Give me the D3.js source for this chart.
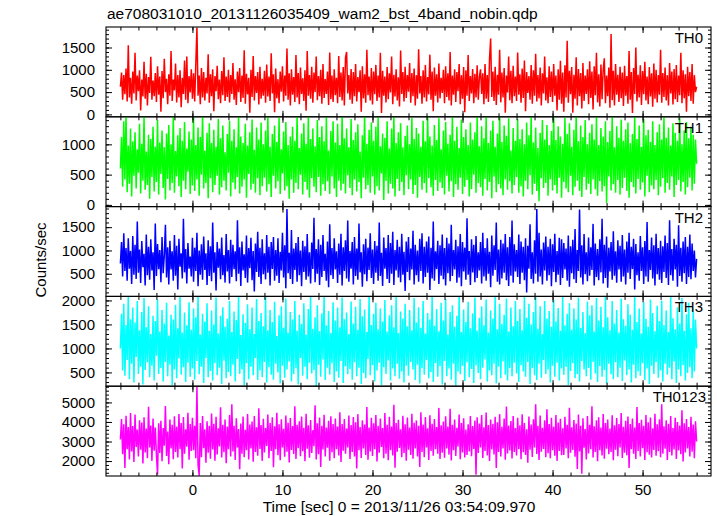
<!DOCTYPE html>
<html>
<head>
<meta charset="utf-8">
<script src="https://cdn.jsdelivr.net/npm/d3@7"></script>
<style>
  html, body { margin: 0; padding: 0; background: #fff; }
  svg { display: block; font-family: "Liberation Sans", Arial, Helvetica, sans-serif; }
</style>
</head>
<body>
<svg id="chart" width="717" height="516"></svg>
<script>
// ---- data (~0.125 s samples from t = -8 s to t = 56 s) ----
const title = "ae708031010_20131126035409_wam2_bst_4band_nobin.qdp";
const xLabel = "Time [sec] 0 = 2013/11/26 03:54:09.970";
const yLabel = "Counts/sec";
const bands = ["TH0", "TH1", "TH2", "TH3", "TH0123"];
const tStart = -8;
const tEnd = 56;
const xTicks = [0, 10, 20, 30, 40, 50];

const th0 = [
620,940,330,880,450,1030,290,1550,380,820,240,960,470,1380,310,870,520,990,90,780,400,1180,350,910,200,840,480,1290,330,760,410,930,
280,1080,440,850,60,970,360,1250,500,800,230,900,420,1420,300,780,540,1140,270,880,380,990,160,820,460,1210,330,1300,250,860,490,1010,
350,920,290,1130,1950,420,870,230,1040,380,950,310,820,470,1350,260,900,410,1010,70,860,520,1090,340,780,250,970,430,1280,300,850,390,
1000,270,880,460,1150,330,790,210,960,500,1040,280,870,370,1440,240,910,450,820,40,1000,390,1310,310,860,480,950,220,1070,350,800,420,
980,260,1120,400,850,300,1370,470,900,50,1030,360,790,250,960,510,1080,290,870,420,1480,330,920,200,1010,440,840,280,1330,380,930,230,
1050,460,810,300,990,80,1420,420,880,350,1070,260,940,500,1300,320,860,410,1000,240,1130,370,790,460,960,210,1390,340,870,280,1010,430,
820,250,1310,390,940,310,1060,200,1270,1400,470,880,330,1020,240,950,410,1130,290,840,500,990,60,1080,360,900,260,1450,430,850,310,1040,
220,960,450,1110,300,870,380,1380,30,980,420,850,270,1060,340,920,490,1300,230,890,400,1010,310,830,180,1430,460,950,290,1070,370,880,
510,1150,260,930,410,1030,200,880,350,1460,470,860,240,990,380,1110,290,840,450,1340,330,960,70,1050,420,900,270,1140,360,820,480,1000,
250,1080,390,920,310,1400,200,870,440,1010,280,950,520,1130,230,880,350,1060,50,990,420,1330,300,860,470,1020,250,910,380,1100,330,840,
1010,460,920,230,1130,350,880,280,1250,1700,390,960,300,1070,210,890,440,1450,270,940,380,1040,40,870,490,1300,320,980,250,1090,410,850,
300,1390,440,900,260,1030,370,1210,70,950,480,860,330,1110,240,990,420,1360,290,880,360,1050,200,920,470,1300,310,830,250,1080,390,960,
280,1130,420,870,90,1010,330,1200,240,940,60,1100,380,1650,260,980,450,1060,40,890,350,1280,200,1020,410,930,130,1150,300,870,460,1010,
230,1190,370,960,110,1080,430,1380,270,900,180,1120,340,1000,1260,250,870,410,1050,150,1800,320,980,200,1130,440,890,280,1070,360,940,190,
1090,420,860,240,1420,330,950,30,1040,460,1500,290,890,380,1100,210,970,450,1180,310,850,230,1060,400,920,170,1140,350,1000,270,880,440,
1450,260,930,390,1050,310,880,200,1150,470,960,220,1020,340,1110,280,870,430,1380,250,990,360,900,60,1070,410,950,300,1130,240,880,500,
620
];
const th1 = [
600,1120,300,1380,420,1500,210,980,350,1260,140,1050,480,1200,270,920,530,1340,190,1010,400,1470,250,880,330,1160,100,1090,460,1290,220,960,
380,1400,170,1030,510,1230,280,950,90,1180,430,1320,240,1000,360,1480,200,890,470,1150,310,1270,130,1060,400,1370,260,930,550,1210,180,1080,
320,1450,230,990,420,1280,150,1120,500,1500,270,900,360,1190,110,1350,440,1020,210,1240,330,960,480,1420,170,1100,290,1310,400,870,240,1170,
530,1390,140,1060,370,1250,260,950,460,1470,190,1130,300,1020,420,1340,120,980,510,1200,250,1410,350,910,200,1280,440,1080,160,1360,310,1000,
450,1230,220,1500,340,960,130,1170,480,1310,270,1040,390,1440,180,920,520,1210,240,1370,310,990,100,1130,420,1290,200,1060,360,1480,260,940,
500,1180,170,1350,380,1010,250,1470,120,1090,440,1260,300,970,210,1400,460,1120,150,1300,340,1050,230,1450,390,900,180,1220,470,1380,270,1030,
130,1340,400,990,240,1500,350,1100,190,1260,490,950,280,1420,160,1070,420,1200,220,1330,380,880,110,1150,450,1480,260,1010,330,1240,200,1360,
470,1060,170,1290,310,1450,240,970,520,1180,80,1110,400,1380,190,930,350,1260,270,1490,140,1020,430,1200,230,1350,380,950,160,1140,490,1310,
260,1000,420,1440,180,1090,330,1270,120,1180,460,960,250,1390,360,1050,200,1500,440,1130,290,980,150,1320,410,1070,230,1430,370,920,280,1230,
170,1370,480,1010,220,1160,390,1480,130,1060,340,1290,250,940,450,1410,180,1120,300,1250,410,990,140,1360,260,1080,500,1200,200,1450,360,970,
290,1300,150,1100,430,1470,240,1020,380,1230,110,1390,470,960,210,1180,340,1500,270,1040,160,1310,420,1140,250,1430,390,900,190,1270,330,1060,
460,1420,200,1090,310,1250,140,1000,400,1360,260,1150,490,1470,170,1030,350,1280,230,940,60,1190,440,1400,280,1080,360,1320,150,990,420,1220,
240,1480,330,1070,190,1300,450,1130,120,1010,380,1440,270,1170,210,1350,480,960,160,1240,300,1500,400,1050,230,1310,130,1120,460,1400,250,1000,
350,1190,180,1330,420,1080,260,1460,150,990,390,1270,220,1130,310,1380,30,1040,470,1220,240,1490,340,950,200,1300,410,1110,170,1410,280,1060,
450,1250,230,1360,120,1020,380,1170,290,1470,190,1090,430,1310,250,960,370,1420,140,1150,480,1240,210,1040,320,1380,260,990,410,1200,160,1330,
300,1080,440,1450,200,1110,360,1280,250,980,470,1350,130,1190,330,1060,410,1440,220,1000,380,1230,170,1370,290,1100,450,1290,240,1160,350,1080,
680
];
const th2 = [
720,1180,440,1370,560,1050,350,1260,610,990,280,1310,480,1120,390,1620,520,1020,300,1200,640,930,250,1340,470,1080,370,1240,570,960,150,1580,
450,1140,600,1010,320,1290,510,890,1550,420,1070,270,1210,590,980,350,1330,460,1100,160,1250,650,940,400,1680,530,1030,290,1160,610,870,440,
1270,330,1060,560,1380,230,1000,480,1130,370,1300,580,940,260,1220,450,1090,340,1600,520,960,140,1180,630,1040,380,1280,470,900,310,1350,550,
1010,290,1230,430,1120,600,980,340,1650,500,1070,240,1190,570,920,410,1320,310,1050,620,1270,360,990,120,1150,540,1400,430,1060,280,1240,490,
940,380,1330,520,1080,250,1180,600,1290,350,1010,460,1260,300,970,570,1380,420,1110,190,1890,510,950,390,1440,280,1040,580,1160,330,1290,470,
1000,230,1210,540,1090,370,1350,440,960,290,1170,600,1700,320,1030,500,1240,260,1120,430,1330,560,930,350,1190,210,1560,470,1050,390,1260,590,
980,300,1150,480,1360,250,1070,560,1220,400,1640,330,990,610,1180,270,1290,450,1040,370,1580,530,960,220,1130,490,1250,340,1060,580,1370,410,
1020,280,1200,520,1100,350,1600,450,950,240,1280,610,1050,390,1330,300,1160,500,1400,260,1010,570,1230,420,1080,320,1360,480,970,130,1190,540,
1290,360,1040,590,1420,270,1120,470,1000,330,1250,560,1370,290,1080,430,1190,520,1300,150,1060,400,1620,350,980,600,1210,280,1110,460,1340,380,
1050,250,1270,510,1150,340,1550,450,1010,590,1230,310,1090,420,1350,230,1180,550,1060,370,1690,480,990,260,1240,530,1120,320,1310,410,960,570,
1180,290,1380,440,1050,350,1260,500,970,210,1320,460,1110,580,1600,330,1020,270,1230,400,1150,520,1350,360,1070,240,1290,460,1640,310,1130,550,
1010,430,1340,280,1190,520,1080,360,1260,100,1100,610,1560,390,960,290,1220,500,1890,330,1380,440,1020,270,1170,570,1300,350,1080,470,1250,230,
1130,540,1360,320,990,480,1270,260,1240,410,1160,590,1040,350,1320,220,1090,510,1230,380,1460,300,1010,560,1880,420,1110,270,1350,490,960,340,
1280,460,1070,580,1570,250,1150,430,1030,360,1240,530,1680,290,1120,410,1300,200,1060,550,1180,370,1410,460,980,310,1220,590,1100,330,1330,440,
1020,270,1190,520,1380,390,1080,600,1250,160,1140,470,960,350,1310,560,1070,280,1200,440,1610,330,1010,580,1280,400,1110,250,1360,490,1050,370,
1210,300,1090,540,1320,410,1160,260,1650,470,1030,350,1250,590,1120,220,1540,450,1060,330,1190,510,1290,280,1080,430,1340,380,1150,560,1000,420,
820
];
const th3 = [
1000,1720,540,1930,430,1490,760,2100,360,1610,680,1850,290,1540,820,1990,470,1380,620,1760,250,2050,550,1440,710,1880,400,1300,640,1680,330,1570,
850,2020,470,1350,590,1800,310,1520,720,1950,420,1270,660,1700,240,1600,560,1910,380,1420,790,2090,450,1330,610,1750,300,1480,700,1960,410,1390,
580,1830,350,1650,740,2100,460,1290,620,1720,280,1560,800,1940,400,1370,530,1790,330,1500,690,2060,440,1310,600,1680,260,1860,750,1450,380,1620,
510,1990,420,1340,660,1770,310,1590,780,2080,470,1280,560,1710,230,1530,690,1920,360,1400,620,1850,440,1300,800,2030,340,1570,540,1740,400,1460,
720,2100,290,1380,610,1800,450,1550,350,1970,680,1260,500,1690,270,1880,640,1430,390,2040,560,1330,730,1760,310,1600,470,1990,590,1370,250,1700,
800,1510,430,1940,620,1290,360,1820,700,2070,480,1410,550,1650,220,1900,660,1360,410,1730,770,2100,340,1480,600,1780,450,1320,690,1960,300,1580,
520,1850,390,1440,740,2060,280,1610,630,1750,460,1300,570,1980,350,1520,710,1870,420,1390,600,2030,260,1670,490,1810,380,1340,780,2090,440,1490,
650,1720,310,1950,540,1400,700,1830,240,1560,610,2010,470,1350,750,1690,330,1900,580,1440,420,2080,680,1320,370,1770,520,1620,290,1930,640,1460,
430,1800,720,1380,560,2050,340,1540,660,1860,270,1430,590,1990,450,1310,760,1740,380,1600,510,2090,300,1470,690,1820,410,1360,630,1950,250,1580,
740,2030,420,1290,580,1760,350,1900,680,1450,230,1680,520,2100,460,1340,640,1810,320,1550,710,1970,400,1420,570,1730,280,2060,650,1370,490,1640,
360,1880,600,1480,770,2020,310,1330,540,1790,440,1620,680,2080,270,1400,620,1930,380,1510,730,1700,450,2040,330,1350,590,1850,420,1460,700,1990,
480,1570,300,1820,650,1380,520,2070,410,1640,720,1930,260,1500,590,1760,440,2090,340,1410,680,1880,390,1300,760,1990,470,1620,560,1780,290,1450,
640,2010,410,1560,700,1840,330,1370,580,2100,450,1480,620,1720,240,1940,530,1390,690,1830,380,1600,470,2060,310,1430,740,1760,560,1320,420,1980,
590,1690,350,1900,720,1350,480,2050,300,1580,630,1870,410,1440,550,2090,270,1650,680,1380,460,1990,360,1520,710,1800,400,1330,600,2040,320,1610,
750,1470,440,1920,560,1700,290,1390,660,2080,380,1550,520,1830,430,1310,690,1960,340,1620,580,1450,260,2020,640,1740,470,1360,710,1890,390,1570,
540,2000,310,1480,680,1790,450,1340,600,2070,360,1630,730,1400,280,1860,560,1520,420,2050,650,1370,330,1710,490,1950,610,1420,380,1830,520,1600,
1000
];
const th0123 = [
3100,4150,2350,3880,1640,4320,2610,3740,2080,4460,2490,3790,1950,4380,2720,3610,2230,4090,2580,3970,1870,4240,2440,3660,2150,4780,2690,3820,2010,4180,2530,3720,
2320,1310,3930,2410,4060,1990,3690,2780,4820,2260,3510,1840,4130,2640,3850,2090,4290,2470,3760,2180,4410,2600,3950,1620,4250,2380,3620,2730,4470,2070,3890,2510,
4210,2560,3800,2140,5800,1800,1250,3950,2200,4300,2660,3620,1920,4040,2420,3810,2120,4430,2590,3910,2020,4260,2340,3680,2750,4750,2180,3860,2450,4120,1890,3770,
2610,4350,2230,4900,2490,3810,2060,4190,2700,3640,1580,3920,2380,4280,2190,3600,2550,4410,2080,3870,2640,4020,1960,4310,2470,3730,2270,4700,2620,3840,2010,4160,
2440,3690,2770,4380,2150,3940,2520,4240,1680,3780,2610,4470,2300,3880,2040,4140,2690,3650,2220,4330,2480,3960,1930,4200,2570,3790,2360,4800,2110,3860,2660,4030,
2250,4280,2500,3700,1990,4420,2630,3830,2170,4100,2410,3580,2760,4850,2080,3930,2350,4230,1700,3810,2590,4370,2240,3720,2680,4060,2020,4290,2450,3890,2140,4180,
2600,3760,2290,4490,1950,3900,2530,4150,2370,3660,2700,4330,2100,3840,2460,4250,2230,3990,1620,4400,2550,3740,2160,4080,2640,3870,2310,4760,2070,3710,2490,4210,
2260,3930,2610,4360,1980,3800,2420,4170,2720,3690,2150,4460,2380,3850,2040,4270,2560,3760,2290,4880,1660,3940,2480,4110,2670,3620,2190,4320,2410,3880,2020,4230,
2580,3710,2310,4420,2120,3960,2650,4080,2240,3800,1700,4500,2470,3870,2200,4250,2690,3680,2050,4340,2520,3910,2270,4150,2610,3740,2380,4720,2110,3830,2430,4020,
2170,4290,2640,3770,2330,4680,2030,3860,2560,4130,2260,3700,2740,4380,2090,3950,2440,4190,2180,3610,2310,3880,2490,4310,2250,3790,2620,4070,1300,4240,2410,3920,
2700,4360,2160,3730,2520,4480,2280,3840,2000,4120,2590,3910,2340,4270,1640,3980,2470,4400,2230,3750,2650,4170,2070,4790,2390,3820,2540,4050,2130,4310,2460,3690,
2290,4220,2600,3830,2090,4390,2450,3940,2310,3620,1910,4280,2580,3870,2210,4140,2690,4900,2360,3810,2050,4330,2480,3700,2620,4080,2190,4650,2400,3900,2140,4210,
2550,3760,2270,4350,2010,3970,2510,4160,2300,3680,2310,4260,2640,3850,2150,4730,2420,3730,2570,4100,2220,3920,1600,4380,2490,3800,1350,4190,2680,3640,2080,4300,
2390,3860,2610,4800,2180,3780,2460,4090,1990,4240,2550,3710,2280,4410,2120,3950,2630,4130,2350,3660,2470,4340,2040,3830,2580,4200,2250,3900,2690,4460,2160,3750,
2430,4060,2300,4280,1650,3890,2600,4170,2370,3720,2110,4760,2520,3940,2240,4110,2660,3800,2060,4360,2450,3990,2320,4230,2180,3670,2570,4420,2270,3880,2500,4140,
2200,4900,2380,3780,2630,4090,2050,3910,2460,4300,2290,3690,2590,4210,2100,4000,2540,3820,2350,4600,1980,3930,2440,4150,2650,3740,2230,4260,2480,3870,2150,4040,
3000
];
const series = [th0, th1, th2, th3, th0123];
const yDomains = [[-54, 1960], [-28, 1455], [14, 1941], [213, 2084], [1235, 5830]];
const yMajor = [[0, 500, 1000, 1500], [0, 500, 1000], [500, 1000, 1500], [500, 1000, 1500, 2000], [2000, 3000, 4000, 5000]];
const yMinorStep = [100, 100, 100, 100, 200];
const colors = ["#ff0000", "#00ff00", "#0000ff", "#00ffff", "#ff00ff"];

// ---- layout ----
const W = 717, H = 516;
const pLeft = 106, pRight = 711, pTop = 27, panelH = 89.8;
const fontSize = 15;

const svg = d3.select("#chart");
svg.append("rect").attr("width", W).attr("height", H).attr("fill", "#fff");

const x = d3.scaleLinear().domain([-9.6, 57.6]).range([pLeft, pRight]);
const xMinorTicks = d3.range(-8, 57, 2);

svg.append("text")
  .attr("x", 107).attr("y", 19)
  .attr("font-size", 15.5).attr("fill", "#000")
  .text(title);

const defs = svg.append("defs");

series.forEach((vals, k) => {
  const y0 = pTop + k * panelH, y1 = y0 + panelH;
  const y = d3.scaleLinear().domain(yDomains[k]).range([y1, y0]);
  const g = svg.append("g");
  const step = (tEnd - tStart) / (vals.length - 1);

  defs.append("clipPath").attr("id", "clip" + k)
    .append("rect").attr("x", pLeft).attr("y", y0).attr("width", pRight - pLeft).attr("height", panelH);

  const line = d3.line()
    .x((d, i) => x(tStart + i * step))
    .y(d => y(d));
  g.append("path")
    .datum(vals)
    .attr("clip-path", "url(#clip" + k + ")")
    .attr("fill", "none")
    .attr("stroke", colors[k])
    .attr("stroke-width", 1.5)
    .attr("stroke-linejoin", "bevel")
    .attr("d", line);

  const [d0, d1] = yDomains[k];
  const minor = d3.range(Math.ceil(d0 / yMinorStep[k]) * yMinorStep[k], d1, yMinorStep[k]);
  g.append("g").attr("transform", `translate(${pLeft},0)`)
    .call(d3.axisLeft(y).tickValues(minor).tickSize(-3).tickSizeOuter(0).tickFormat(""));
  g.append("g").attr("transform", `translate(${pRight},0)`)
    .call(d3.axisRight(y).tickValues(minor).tickSize(-3).tickSizeOuter(0).tickFormat(""));
  g.append("g").attr("transform", `translate(${pLeft},0)`)
    .call(d3.axisLeft(y).tickValues(yMajor[k]).tickSize(-6).tickSizeOuter(0).tickPadding(11).tickFormat(d3.format("d")));
  g.append("g").attr("transform", `translate(${pRight},0)`)
    .call(d3.axisRight(y).tickValues(yMajor[k]).tickSize(-6).tickSizeOuter(0).tickFormat(""));

  g.append("g").attr("transform", `translate(0,${y0})`)
    .call(d3.axisTop(x).tickValues(xMinorTicks).tickSize(-3.5).tickSizeOuter(0).tickFormat(""));
  g.append("g").attr("transform", `translate(0,${y0})`)
    .call(d3.axisTop(x).tickValues(xTicks).tickSize(-6).tickSizeOuter(0).tickFormat(""));
  g.append("g").attr("transform", `translate(0,${y1})`)
    .call(d3.axisBottom(x).tickValues(xMinorTicks).tickSize(-3.5).tickSizeOuter(0).tickFormat(""));
  g.append("g").attr("transform", `translate(0,${y1})`)
    .call(d3.axisBottom(x).tickValues(xTicks).tickSize(-6).tickSizeOuter(0)
      .tickPadding(8).tickFormat(k === series.length - 1 ? d3.format("d") : ""));

  g.selectAll(".domain").remove();
  g.selectAll(".tick line").attr("stroke", "#000").attr("stroke-width", 1);
  g.selectAll(".tick text").attr("font-size", fontSize).attr("fill", "#000")
    .attr("font-family", '"Liberation Sans", Arial, Helvetica, sans-serif');

  g.append("rect")
    .attr("x", pLeft).attr("y", y0).attr("width", pRight - pLeft).attr("height", panelH)
    .attr("fill", "none").attr("stroke", "#000").attr("stroke-width", 1.1);

  g.append("text")
    .attr("x", k === series.length - 1 ? 706 : 703)
    .attr("y", y0 + 16)
    .attr("text-anchor", "end")
    .attr("font-size", fontSize).attr("fill", "#000")
    .text(bands[k]);
});

svg.append("text")
  .attr("x", 399).attr("y", 511.5)
  .attr("text-anchor", "middle")
  .attr("font-size", 15.5).attr("fill", "#000")
  .text(xLabel);

svg.append("text")
  .attr("transform", "translate(46,260) rotate(-90)")
  .attr("text-anchor", "middle")
  .attr("font-size", fontSize).attr("fill", "#000")
  .text(yLabel);
</script>
</body>
</html>
